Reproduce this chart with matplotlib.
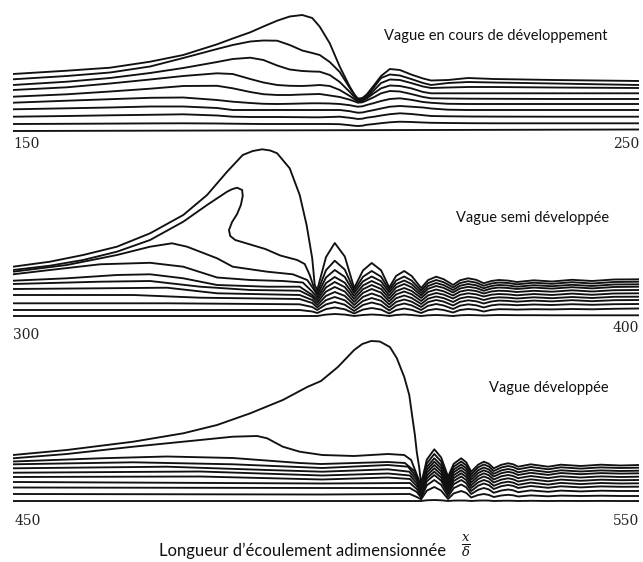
import matplotlib.pyplot as plt

plt.rcParams['mathtext.fontset'] = 'dejavuserif'

# Heights of each streamline above the lowest one (px units).
# Lines are listed from the top streamline down to the bottom one.

# ---- panel 1 : vague en cours de developpement, x/delta 150-250
p1_x = [150, 158.6, 165.5, 171.9, 177.2, 182.6, 185.1, 187.9, 190, 192.2, 194.2,
        196.2, 197.8, 199, 200.6, 202.2, 203.8, 204.6, 205.1, 205.8, 206.5, 207.7,
        208.8, 210.2, 211.8, 213.6, 215.5, 216.8, 219.5, 222.7, 226.8, 236.4, 250]
p1_lines = [
    [57, 60.3, 63.3, 69.3, 76, 86.7, 92.5, 98.7, 104.5, 110.3, 114.5, 116, 113, 104.3, 87.7,
     64.3, 44.3, 36, 32.5, 33, 36.5, 46, 55, 62, 61, 56.5, 52.5, 50.5, 51, 53, 52, 51, 50],
    [51.7, 55, 58.5, 64.5, 73, 82, 86, 89.5, 90.5, 90.3, 86, 80.5, 78, 76, 69,
     59, 43, 35.5, 31.5, 32, 35, 44, 53, 56.5, 55.5, 52, 48, 46, 48, 49, 48.5, 47.5, 46],
    [46, 49.3, 53, 58, 63, 69, 72, 73.3, 71, 65.5, 61.5, 60, 59.5, 59.3, 56,
     49, 39, 33.5, 30.5, 31, 33.5, 41, 48, 51.5, 51, 48, 44.5, 43, 43.5, 44, 44, 43.5, 43],
    [41, 43.7, 47.5, 51.5, 55, 57.7, 57, 52, 48.5, 46, 45.2, 45, 45.5, 46, 45,
     41, 35, 31.5, 29.5, 30, 32.5, 38, 42.7, 45.5, 45, 42.7, 39, 37.7, 37.7, 37.7, 37.7, 37.7, 37.7],
    [34.3, 36.7, 39.5, 42.3, 45, 45.2, 42.7, 39, 36.8, 36, 36, 36.5, 36.8, 37, 35.5,
     34, 31.3, 29.5, 28.3, 28.7, 30.5, 34, 37.7, 40, 39.5, 37, 34, 32.7, 32.5, 32.3, 32.2, 32, 32],
    [28.3, 30.3, 31.8, 33.2, 33.5, 31, 29.3, 28, 27.2, 27, 27.2, 27.5, 27.7, 27.7, 27.5,
     27, 25.8, 24.8, 24.3, 24.7, 26, 28, 30, 32, 32.7, 31.2, 29, 28.2, 27.2, 27, 27, 27, 27],
    [21.7, 22.7, 23.5, 24.5, 24.5, 23, 21, 21, 21, 21, 21, 21, 21, 21, 21,
     21, 19.8, 18.8, 18.3, 18.5, 19.5, 21, 22.5, 24.3, 25, 24.3, 23.5, 22.5, 21.3, 21, 21, 21, 21],
    [14.3, 15, 15.7, 16.2, 16.7, 15.5, 14.3, 14, 14, 14, 13.9, 13.8, 13.7, 13.7, 14,
     14.3, 13.2, 12.5, 12, 12.3, 13.3, 14.3, 15.5, 16.8, 17.7, 17, 15.8, 15, 14.7, 14.5, 14.4, 14.3, 14.3],
    [7, 7.2, 7.4, 7.6, 7.7, 7.5, 7.3, 7.1, 7, 7, 7, 7, 7, 7, 7,
     6.8, 5.8, 5.2, 5, 5.3, 6.2, 7, 7.8, 8.7, 9.3, 9, 8.5, 8.2, 8, 7.8, 7.7, 7.7, 7.7],
]
p1_bottom_x = [150, 250]
p1_bottom = [0, 1.5]

# ---- panel 2 : vague semi developpee, x/delta 300-400
p2_left_x = [
    [300, 305.9, 311.2, 316.6, 321.9, 327.2, 331, 334.2, 336.7, 338.3, 339.8, 341.1,
     342.2, 344.2, 345.8, 346.9, 347.8, 348.2],
    [300, 305.9, 311.2, 316.6, 321.9, 327.2, 331, 334.2, 335.0, 335.8, 336.6, 336.7,
     336.4, 335.8, 335, 334.5, 334.7, 335.5, 337.9, 340.3, 342.7, 345.4, 346.6, 347.4, 348.1],
    [300, 308.6, 316.6, 321.9, 325.4, 327.8, 332.6, 335.1, 340.6, 344.7, 347, 347.9],
    [300, 305.9, 313.9, 321.9, 327.2, 332.6, 337.9, 343.1, 346.3, 347.8],
    [300, 308.6, 316.6, 321.9, 327.2, 332.6, 340.6, 345.8, 347.8],
    [300, 313.9, 321.9, 329.9, 337.9, 345.8, 347.8],
    [300, 313.9, 324.6, 332.6, 345.8, 347.8],
    [300, 319.2, 329.9, 345.8, 347.8],
    [300, 324.6, 345.8, 347.8],
    [300, 345.8, 347.8],
    [300, 347.8],
]
p2_left = [
    [49.3, 54.3, 61, 69.3, 82.7, 101, 121, 144.3, 161, 165, 166.7, 165.5,
     162.7, 147.7, 121, 91, 57.7, 31],
    [46, 50.3, 56, 64.3, 76, 94.3, 111, 124.3, 126.8, 128.3, 126, 120,
     111, 102, 94, 86, 80, 76, 71.5, 67, 60.5, 56, 52, 41, 28],
    [44.3, 51, 61, 69.3, 72.7, 69.3, 57.7, 49.3, 44.3, 41.7, 36, 28],
    [41.7, 46, 51.7, 53.2, 49.3, 38.5, 36, 35, 33.5, 24.3],
    [35.3, 37.7, 41, 41.7, 37.7, 31, 29.3, 29.3, 21],
    [32, 34.3, 35, 29.3, 26, 25.3, 19],
    [27, 27.7, 28.3, 22.7, 21, 16],
    [21, 21, 18.3, 17, 13],
    [12.7, 12.7, 11.7, 9],
    [6, 6, 4.5],
    [0, 0],
]
p2_wave_x = [348.6, 350, 351.4, 353, 354.5, 355.9, 357.3, 358.8, 360.1, 361.2, 362.5,
             363.7, 365.2, 366.3, 367.6, 368.8, 370.3, 371.4, 372.7, 374, 375.2, 376.4,
             377.6, 379.1, 380.5, 383.2, 386.1, 389.3, 392.5, 396, 400]
p2_wave = [
    [26, 58.9, 73, 59.5, 28, 45.5, 53, 45.7, 28.5, 40.1, 45, 39.9, 28, 35.9, 39.3, 36.8,
     31, 35.7, 37.7, 36.2, 32.7, 35, 36, 35.4, 34, 35.7, 34.5, 36.2, 35, 36.5, 36.7],
    [23.5, 45.8, 55.3, 46.4, 25.5, 39.2, 45, 39.3, 26, 35.5, 39.5, 35.3, 25.5, 32.9, 36, 33.8,
     28.5, 32.9, 34.8, 33.4, 30.2, 32.5, 33.5, 33, 31.7, 33.3, 32.2, 33.8, 32.5, 34, 34.3],
    [21, 38.5, 46, 39.1, 23, 34.6, 39.5, 34.7, 23.5, 31.9, 35.5, 31.8, 23, 30, 33, 30.9,
     26, 30.2, 32, 30.7, 27.7, 30, 31, 30.5, 29.3, 30.8, 29.8, 31.2, 30, 31.5, 31.7],
    [18.5, 32.9, 39, 33.3, 20, 30.5, 35, 30.7, 20.5, 28.6, 32, 28.6, 20.5, 27.2, 30, 28.1,
     23.5, 27.5, 29.2, 28, 25.2, 27.5, 28.5, 28, 27, 28.4, 27.4, 28.8, 27.6, 29, 29.3],
    [16, 28.6, 34, 28.9, 17, 26.8, 31, 27, 17.5, 24.9, 28, 25, 18, 24, 26.5, 24.7,
     20.5, 24.4, 26, 25, 22.5, 24.5, 25.3, 24.9, 24, 25.2, 24.3, 25.7, 24.5, 25.8, 26],
    [13.5, 24.4, 29, 24.5, 14, 23.1, 27, 23.3, 14.5, 21.5, 24.5, 21.7, 15, 20.6, 23, 21.4,
     17.5, 21.1, 22.7, 21.7, 19.5, 21.3, 22, 21.6, 20.7, 22, 21, 22.4, 21.2, 22.5, 22.7],
    [11, 20.1, 24, 20.1, 11, 19.1, 22.5, 19.2, 11.5, 17.8, 20.5, 18, 12, 17.3, 19.5, 17.9,
     14, 17.6, 19.2, 18.2, 16, 17.9, 18.7, 18.3, 17.5, 18.7, 17.8, 19, 18, 19.2, 19.3],
    [8.5, 15.9, 19, 15.7, 8, 15, 18, 15.2, 8.5, 14.1, 16.5, 14.3, 9, 13.9, 16, 14.4,
     10.5, 14.1, 15.7, 14.7, 12.5, 14.5, 15.4, 15.1, 14.3, 15.4, 14.6, 15.8, 14.8, 15.8, 16],
    [6, 11.6, 14, 11.3, 5, 11, 13.5, 11.1, 5.5, 10.4, 12.5, 10.6, 6, 10.2, 12, 10.5,
     7, 10.3, 11.7, 10.7, 8.5, 10.6, 11.5, 11.3, 10.8, 11.5, 11, 11.8, 11.2, 11.8, 12],
    [3, 6.9, 8.5, 6.7, 2.5, 6.4, 8, 6.4, 2.5, 6, 7.5, 6.2, 3, 5.8, 7, 6,
     3.5, 6, 7, 6.3, 4.5, 6.1, 6.8, 6.7, 6.4, 6.8, 6.6, 7, 6.7, 7.2, 7.5],
    [0, 1.4, 2, 1.4, 0, 1, 1.5, 1, 0, 1, 1.5, 1, 0, 0.7, 1, 0.7,
     0, 0.7, 1, 0.8, 0.5, 0.8, 1, 0.9, 0.8, 0.8, 0.7, 0.7, 0.7, 0.7, 0.7],
]

# ---- panel 3 : vague developpee, x/delta 450-550
p3_left_x = [
    [450, 458.6, 469.2, 477.2, 482.6, 487.9, 493.1, 497, 499.2, 501.9, 504.5, 505.8,
     507.2, 508.6, 510.2, 511.3, 512.5, 513.3, 513.7, 514.2, 514.5, 514.9],
    [450, 458.6, 469.2, 479.9, 485.1, 489, 490.6, 493.1, 495.8, 499.4, 504.5, 509.9,
     512.5, 513.6, 514.4, 514.9],
    [450, 463.9, 474.6, 485.1, 495.8, 499.2, 509.9, 512.6, 514.1, 514.7],
    [450, 469.2, 485.1, 499.4, 509.9, 513.1, 514.4],
    [450, 474.6, 490.6, 499.4, 509.9, 513.3, 514.5],
    [450, 479.9, 499.4, 509.9, 513.4, 514.5],
    [450, 479.9, 499.4, 509.9, 513.4, 514.5],
    [450, 499.4, 513.4, 514.5],
    [450, 499.4, 513.4, 514.5],
    [450, 499.4, 513.4, 514.5],
    [450, 514.5],
]
p3_left = [
    [46, 51, 59.3, 67.7, 76, 87.7, 101, 114, 120, 134, 151, 157,
     160, 159.5, 154, 143, 124, 106, 88, 66, 49, 33],
    [42.7, 47, 54.3, 61, 64.3, 65, 62.7, 54.3, 49.3, 46, 45, 47, 46, 41, 28, 19.3],
    [39.5, 42.7, 44.5, 43, 38, 37, 39, 38, 30, 23],
    [36.7, 38.7, 36.7, 33, 36, 34.3, 24.3],
    [32.7, 34.3, 31, 29.3, 31.7, 29.3, 21],
    [28.3, 29.5, 25.5, 27.5, 25.5, 18],
    [24, 24.5, 21.5, 23.5, 22, 15],
    [19, 17.5, 18, 12],
    [13.5, 13, 13, 9],
    [7, 6.5, 7, 4],
    [0, 0],
]
p3_wave_x = [515.2, 516.1, 517.3, 518.4, 519.5, 520.4, 521.6, 522.4, 523.2, 524.3, 525.2,
             526, 526.8, 528, 529.1, 529.9, 530.7, 532.7, 535.5, 537.5, 540.7, 543.9,
             547.1, 550]
p3_wave = [
    [17, 41.3, 51.7, 43.5, 24.3, 37.2, 42.7, 38.7, 29.3, 36.3, 39.3, 37.3, 32.7, 36.2,
     37.7, 36.7, 34.3, 36.7, 34.3, 36.3, 35, 36.3, 35.5, 36],
    [15.3, 37.5, 47, 39.5, 22, 34.3, 39.5, 35.7, 26.7, 33.6, 36.5, 34.6, 30, 33.5,
     35, 34, 31.7, 34, 31.7, 33.7, 32.4, 33.6, 33, 33.3],
    [13.6, 34, 42.7, 35.7, 19.5, 31.4, 36.5, 32.8, 24, 30.7, 33.5, 31.6, 27.2, 30.6,
     32, 31, 28.7, 31, 28.8, 30.7, 29.5, 30.6, 30, 30.3],
    [11.9, 31.1, 39.3, 32.6, 17, 28.7, 33.7, 30, 21.3, 27.9, 30.7, 28.8, 24.5, 27.8,
     29.2, 28.2, 26, 28.2, 26.1, 28, 26.8, 27.9, 27.4, 27.7],
    [10.2, 28.3, 36, 29.6, 14.5, 25.8, 30.7, 27, 18.5, 24.9, 27.7, 25.8, 21.5, 24.7,
     26, 25, 22.8, 25, 22.9, 24.7, 23.5, 24.6, 24, 24.3],
    [8.5, 25.4, 32.7, 26.5, 12, 23, 27.7, 24.1, 15.7, 21.9, 24.5, 22.7, 18.5, 21.4,
     22.7, 21.7, 19.5, 21.7, 19.7, 21.4, 20.2, 21.3, 20.8, 21],
    [6.8, 22.6, 29.3, 23.4, 9.5, 20, 24.5, 21, 13, 18.6, 21, 19.3, 15.2, 18.1,
     19.3, 18.4, 16.2, 18.4, 16.4, 18.1, 16.9, 18, 17.5, 17.7],
    [5.1, 19.7, 26, 20.3, 7, 16.8, 21, 17.7, 10, 15.3, 17.5, 15.9, 12, 14.8,
     16, 15.1, 13, 15, 13.2, 14.7, 13.6, 14.6, 14.2, 14.3],
    [3.4, 15.7, 21, 16.1, 4.5, 12.9, 16.5, 13.7, 7, 11.2, 13, 11.6, 8.2, 10.5,
     11.5, 10.7, 8.8, 10.6, 9.2, 10.4, 9.6, 10.3, 10, 10],
    [1.7, 10.3, 14, 10.4, 2, 7.6, 10, 8.1, 3.5, 6, 7, 6.1, 4, 5.5,
     6.2, 5.7, 4.5, 5.6, 4.7, 5.4, 5, 5.3, 5, 5],
    [0, 0.7, 1, 0.7, 0, 0.4, 0.5, 0.4, 0, 0.4, 0.5, 0.4, 0, 0.2,
     0.3, 0.2, 0, 0.2, 0, 0.1, 0, 0.1, 0, 0],
]

W, H = 643, 562
fig = plt.figure(figsize=(W / 100, H / 100), dpi=100)
line_kw = dict(color='#111111', lw=1.35, solid_joinstyle='round', solid_capstyle='round')


def make_panel(top, bottom, base, xlim):
    # top/bottom/base given in pixel rows of the figure
    ax = fig.add_axes([13 / W, 1 - bottom / H, 626 / W, (bottom - top) / H])
    ax.set_xlim(*xlim)
    ax.set_ylim(base - bottom, base - top)
    ax.axis('off')
    return ax


ax1 = make_panel(5, 136, 131, (150, 250))
for ys in p1_lines:
    ax1.plot(p1_x, ys, **line_kw)
ax1.plot(p1_bottom_x, p1_bottom, **line_kw)

ax2 = make_panel(140, 320, 316, (300, 400))
for lx, ly, wy in zip(p2_left_x, p2_left, p2_wave):
    ax2.plot(lx + p2_wave_x, ly + wy, **line_kw)

ax3 = make_panel(330, 505, 501, (450, 550))
for lx, ly, wy in zip(p3_left_x, p3_left, p3_wave):
    ax3.plot(lx + p3_wave_x, ly + wy, **line_kw)

# labels
num_kw = dict(family='DejaVu Serif', fontsize=10, va='center', color='#222222')
lab_kw = dict(family='Lato', fontsize=10.5, va='center', ha='center', color='#111111')


def fx(px):
    return px / W


def fy(py):
    return 1 - py / H


fig.text(fx(13), fy(144), '150', ha='left', **num_kw)
fig.text(fx(639), fy(144), '250', ha='right', **num_kw)
fig.text(fx(13), fy(335), '300', ha='left', **num_kw)
fig.text(fx(639), fy(328), '400', ha='right', **num_kw)
fig.text(fx(15), fy(521), '450', ha='left', **num_kw)
fig.text(fx(639), fy(521), '550', ha='right', **num_kw)

fig.text(fx(496), fy(36), 'Vague en cours de développement', **lab_kw)
fig.text(fx(533), fy(218), 'Vague semi développée', **lab_kw)
fig.text(fx(549), fy(388), 'Vague développée', **lab_kw)

fig.text(fx(303), fy(551), 'Longueur d’écoulement adimensionnée', family='Lato',
         fontsize=12, ha='center', va='center', color='#111111')
fig.text(fx(466), fy(546), r'$\frac{x}{\delta}$', fontsize=13.5, ha='center', va='center',
         color='#111111')

fig.savefig('out.png', dpi=100)
